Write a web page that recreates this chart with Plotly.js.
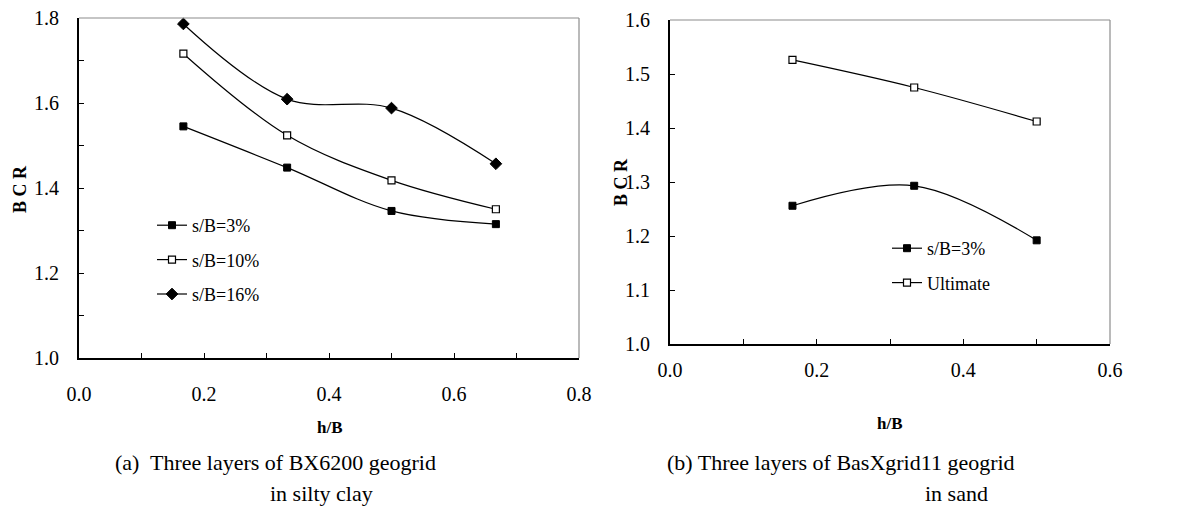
<!DOCTYPE html>
<html>
<head>
<meta charset="utf-8">
<script src="https://cdn.plot.ly/plotly-3.0.1.min.js"></script>
<style>
  html, body { margin: 0; padding: 0; background: #fff; }
  #chart { width: 1199px; height: 518px; }
</style>
</head>
<body>
<div id="chart"></div>
<script>
// (a) BX6200 geogrid, three layers, silty clay
const hB_a = [0.167, 0.333, 0.5, 0.667];
const bcr_a_s3 = [1.545, 1.448, 1.346, 1.315];
const bcr_a_s10 = [1.716, 1.524, 1.418, 1.350];
const bcr_a_s16 = [1.786, 1.609, 1.588, 1.457];

// (b) BasXgrid11 geogrid, three layers, sand
const hB_b = [0.167, 0.333, 0.5];
const bcr_b_s3 = [1.256, 1.293, 1.192];
const bcr_b_ult = [1.526, 1.475, 1.412];

const names_a = ['s/B=3%', 's/B=10%', 's/B=16%'];
const names_b = ['s/B=3%', 'Ultimate'];

const W = 1199, H = 518;
const px = v => v / W;
const py = v => 1 - v / H;

const FONT = '"Liberation Serif", "Times New Roman", Times, serif';

const lineStyle = { color: '#000', width: 1.2, shape: 'spline', smoothing: 1 };
const mFilledSq = { symbol: 'square', size: 7, color: '#000', line: { color: '#000', width: 1 } };
const mOpenSq = { symbol: 'square', size: 7, color: '#fff', line: { color: '#000', width: 1.2 } };
const mDiamond = { symbol: 'diamond', size: 9, color: '#000', line: { color: '#000', width: 1 } };

function series(x, y, name, marker, xa, ya, legend, group) {
  return {
    type: 'scatter', mode: 'lines+markers', x, y, name,
    xaxis: xa, yaxis: ya, legend, legendgroup: group,
    line: lineStyle, marker, cliponaxis: false
  };
}

const data = [
  series(hB_a, bcr_a_s3, names_a[0], mFilledSq, 'x', 'y', 'legend', 'a1'),
  series(hB_a, bcr_a_s10, names_a[1], mOpenSq, 'x', 'y', 'legend', 'a2'),
  series(hB_a, bcr_a_s16, names_a[2], mDiamond, 'x', 'y', 'legend', 'a3'),
  series(hB_b, bcr_b_s3, names_b[0], mFilledSq, 'x2', 'y2', 'legend2', 'b1'),
  series(hB_b, bcr_b_ult, names_b[1], mOpenSq, 'x2', 'y2', 'legend2', 'b2')
];

const tickFont = { family: FONT, size: 20, color: '#000' };

function xAxis(domain, range, standoff, anchor) {
  return {
    domain, range, anchor, dtick: 0.2, tick0: 0, tickformat: '.1f',
    ticks: 'inside', ticklen: 5, tickwidth: 1, tickcolor: '#000',
    minor: { dtick: 0.1, tick0: 0, ticks: 'inside', ticklen: 5, tickwidth: 1, tickcolor: '#000', showgrid: false },
    showline: true, linecolor: '#000', linewidth: 2, showgrid: false, zeroline: false,
    tickfont: tickFont, ticklabelstandoff: standoff, fixedrange: true
  };
}

function yAxis(domain, range, dtick, minor, standoff, anchor) {
  const ax = {
    domain, range, anchor, dtick, tick0: 1, tickformat: '.1f',
    ticks: 'inside', ticklen: 5, tickwidth: 1, tickcolor: '#000',
    showline: true, linecolor: '#000', linewidth: 2, showgrid: false, zeroline: false,
    tickfont: tickFont, ticklabelstandoff: standoff, fixedrange: true
  };
  if (minor) ax.minor = { dtick: minor, tick0: 1, ticks: 'inside', ticklen: 5, tickwidth: 1, tickcolor: '#000', showgrid: false };
  return ax;
}

// frame: top and right edges of each plot area
function frame(xref, yref) {
  return [
    { type: 'line', xref: xref + ' domain', yref: yref + ' domain', x0: 0, x1: 1, y0: 1, y1: 1, line: { color: '#8c8c8c', width: 1.2 } },
    { type: 'line', xref: xref + ' domain', yref: yref + ' domain', x0: 1, x1: 1, y0: 0, y1: 1, line: { color: '#8c8c8c', width: 1.2 } }
  ];
}

const capFont = { family: FONT, size: 22, color: '#000' };
const titleFont = { family: FONT, size: 18, color: '#000' };

function note(text, x, y, font, opts) {
  return Object.assign({ text, x: px(x), y: py(y), xref: 'paper', yref: 'paper', showarrow: false, font, xanchor: 'center', yanchor: 'middle' }, opts || {});
}

const annotations = [
  note('<b>B C R</b>', 20, 189, titleFont, { textangle: -90 }),
  note('<b>B C R</b>', 621, 182, titleFont, { textangle: -90 }),
  note('<b>h/B</b>', 330, 427, { family: FONT, size: 17, color: '#000' }),
  note('<b>h/B</b>', 890, 423, { family: FONT, size: 17, color: '#000' }),
  note('(a)  Three layers of BX6200 geogrid', 113, 462, capFont, { xanchor: 'left' }),
  note('in silty clay', 268, 493, capFont, { xanchor: 'left' }),
  note('(b) Three layers of BasXgrid11 geogrid', 665, 462, capFont, { xanchor: 'left' }),
  note('in sand', 923, 493, capFont, { xanchor: 'left' })
];

const legendBase = {
  bgcolor: 'rgba(0,0,0,0)', borderwidth: 0, font: { family: FONT, size: 18, color: '#000' },
  tracegroupgap: 8, itemwidth: 30, xanchor: 'left', yanchor: 'top', traceorder: 'grouped'
};

const layout = {
  width: W, height: H, autosize: false,
  margin: { l: 0, r: 0, t: 0, b: 0 },
  paper_bgcolor: '#fff', plot_bgcolor: '#fff',
  font: { family: FONT, color: '#000' },
  showlegend: true,
  xaxis: xAxis([px(79), px(579)], [0, 0.8], 17, 'y'),
  yaxis: yAxis([py(358), py(18)], [1.0, 1.8], 0.2, 0.1, 14, 'x'),
  xaxis2: xAxis([px(670), px(1110)], [0, 0.6], 7, 'y2'),
  yaxis2: yAxis([py(344), py(20)], [1.0, 1.6], 0.1, null, 14, 'x2'),
  legend: Object.assign({}, legendBase, { x: px(152), y: py(207) }),
  legend2: Object.assign({}, legendBase, { x: px(887), y: py(230) }),
  shapes: frame('x', 'y').concat(frame('x2', 'y2')),
  annotations
};

Plotly.newPlot('chart', data, layout, { displayModeBar: false, staticPlot: true });
</script>
</body>
</html>
